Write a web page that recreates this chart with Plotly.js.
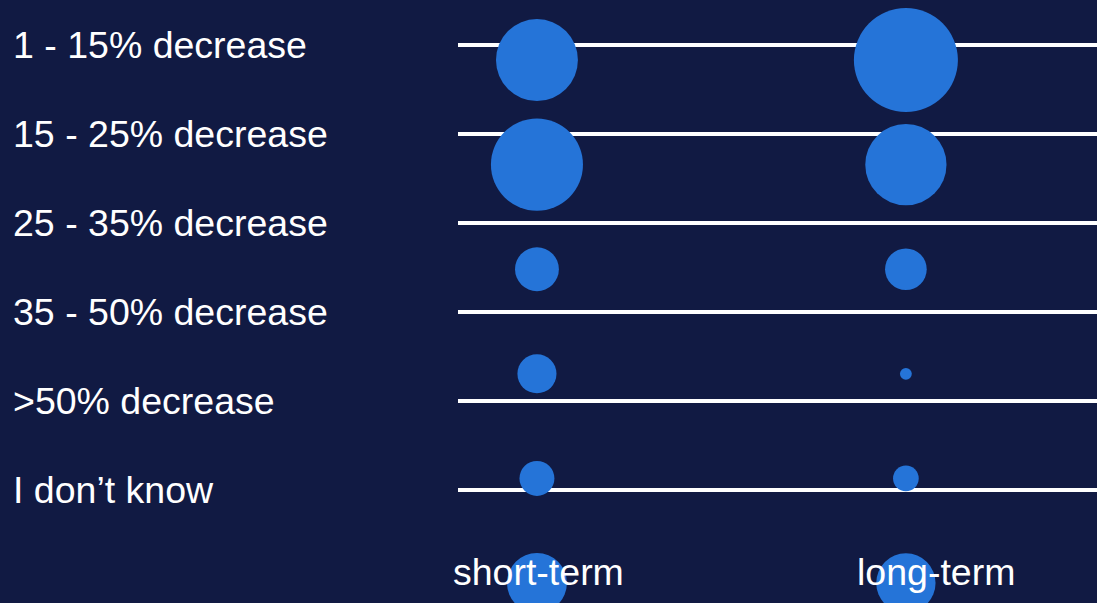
<!DOCTYPE html>
<html>
<head>
<meta charset="utf-8">
<script src="https://cdn.plot.ly/plotly-3.0.1.min.js"></script>
<style>
  html, body { margin: 0; padding: 0; background: #111a43; }
  #chart { width: 1097px; height: 603px; }
</style>
</head>
<body>
<div id="chart"></div>
<script>
// ---- data ----
const rowLabels = ["1 - 15% decrease", "15 - 25% decrease", "25 - 35% decrease",
                   "35 - 50% decrease", ">50% decrease", "I don\u2019t know"];
const horizons = ["short-term", "long-term"];
const shortTermShare = [28.6, 36.1, 8.2, 6.5, 5.2, 15.3];
const longTermShare  = [46.1, 28.1, 7.4, 0.6, 2.8, 15.0];

const bubbleColor = "#2574d8";
const bg = "#111a43";
const sizeRef = 2 * 100 / 23470;
const labelFont = { family: "Liberation Sans, Arial, sans-serif", size: 37.5, color: "#ffffff" };

function bubbleTrace(horizon, values) {
  return {
    type: "scatter", mode: "markers",
    x: values.map(() => horizon),
    y: rowLabels,
    xaxis: "x", yaxis: "y",
    marker: { size: values, sizemode: "area", sizeref: sizeRef, color: bubbleColor,
              opacity: 1, line: { width: 0 } },
    opacity: 1,
    cliponaxis: true,
    hoverinfo: "skip", showlegend: false
  };
}

const traces = [
  // invisible trace anchoring the label/line axis
  { type: "scatter", mode: "markers", x: rowLabels.map(() => horizons[0]), y: rowLabels,
    xaxis: "x", yaxis: "y2", marker: { opacity: 0 }, hoverinfo: "skip", showlegend: false },
  bubbleTrace(horizons[0], shortTermShare),
  bubbleTrace(horizons[1], longTermShare)
];

const annotations = [];
rowLabels.forEach(lbl => annotations.push({
  text: lbl, xref: "paper", x: -0.700, xanchor: "left",
  yref: "y2", y: lbl, yanchor: "middle", showarrow: false, font: labelFont
}));
const hShift = [2, 30];
horizons.forEach((h, i) => annotations.push({
  text: h, xref: "x", x: h, xanchor: "center", xshift: hShift[i],
  yref: "paper", y: 1 - 572 / 603, yanchor: "middle", showarrow: false, font: labelFont
}));

const layout = {
  width: 1097, height: 603,
  margin: { l: 458, r: 0, t: 0, b: 0 },
  paper_bgcolor: bg, plot_bgcolor: bg,
  showlegend: false,
  xaxis: {
    type: "category", categoryarray: horizons, range: [-0.214, 1.518],
    showgrid: false, zeroline: false, showticklabels: false, showline: false, fixedrange: true
  },
  yaxis: {
    type: "category", categoryarray: rowLabels, range: [5.191, -0.574],
    showgrid: false, zeroline: false, showticklabels: false, showline: false, fixedrange: true
  },
  yaxis2: {
    type: "category", categoryarray: rowLabels, range: [6.270, -0.506],
    overlaying: "y", side: "left",
    showgrid: true, gridcolor: "#ffffff", gridwidth: 3.5,
    zeroline: false, showticklabels: false, showline: false, fixedrange: true
  },
  annotations: annotations
};

Plotly.newPlot("chart", traces, layout, { displayModeBar: false, staticPlot: true });
</script>
</body>
</html>
